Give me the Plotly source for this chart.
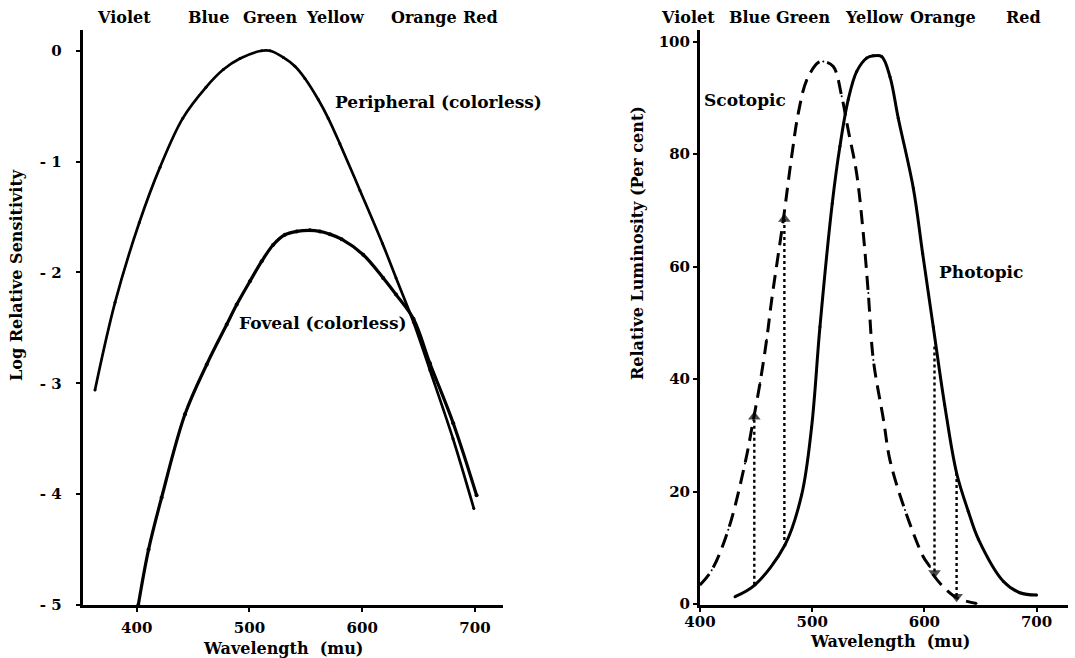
import plotly.graph_objects as go

# ---------------- data: left panel (log relative sensitivity) ----------------
periph_wl = [363, 380.8, 402.3, 420.7, 440.8, 461.4, 476.8, 491.6, 510.8, 518.2, 530, 540.3,
             549.2, 561, 569.9, 580.2, 598, 618, 630, 645.5, 660, 680.5, 699]
periph_val = [-3.06, -2.27, -1.55, -1.05, -0.61, -0.33, -0.17, -0.07, 0.0, 0.0, -0.06, -0.14,
              -0.25, -0.44, -0.61, -0.84, -1.26, -1.74, -2.05, -2.45, -2.88, -3.50, -4.13]
foveal_wl = [401.4, 410.5, 422.1, 442.8, 462.1, 479.8, 488.7, 500.4, 510.8, 521.1, 531.4, 541.8,
             553.6, 562.5, 571.3, 581.7, 600.9, 618.6, 630, 645.5, 660, 680.7, 701.4]
foveal_val = [-5.0, -4.50, -4.03, -3.28, -2.83, -2.47, -2.29, -2.08, -1.90, -1.75, -1.66, -1.63,
              -1.62, -1.63, -1.655, -1.70, -1.84, -2.05, -2.20, -2.42, -2.82, -3.36, -4.01]

left_yticks = [0, -1, -2, -3, -4, -5]
left_xticks = [400, 500, 600, 700]

# ---------------- data: right panel (relative luminosity, per cent) ----------------
photopic_wl = [431.2, 449, 475.7, 490.6, 499.5, 506.9, 517.9, 524.7, 532.1, 539.6, 548.5, 554.4,
               561.9, 569.3, 576.7, 590.1, 598.4, 607.9, 618, 628.7, 639.1, 648.2, 670.5, 685.1, 700]
photopic_val = [1.3, 3.4, 10.5, 19.4, 31.5, 49.3, 71.3, 81.4, 89.7, 94.7, 97.1, 97.5,
                97.4, 93.8, 86.4, 74.0, 62.4, 49.3, 35.5, 23.3, 16.5, 11.5, 4.0, 2.0, 1.6]
scotopic_wl = [400, 410.4, 425.2, 440.1, 447.5, 453.5, 459.4, 463.9, 474.2, 481.7, 487.6, 495.1,
               505.4, 509.9, 518.8, 526.3, 532.1, 539.6, 545.5, 550, 554.5, 563.6, 569.3, 582.7,
               599, 604.9, 607.9, 627.2, 646.5]
scotopic_val = [3.4, 6.0, 13.2, 25.0, 32.7, 39.3, 47.0, 54.1, 68.3, 79.6, 87.3, 93.2,
                96.3, 96.5, 95.6, 90.3, 84.3, 76.6, 66.0, 55.3, 43.4, 32.7, 25.6, 16.7,
                8.4, 6.6, 5.2, 1.3, 0.1]

# shift arrows (Purkinje shift): wavelength, start value, end value
arrow_wl = [448.4, 475.2, 609.0, 628.7]
arrow_from = [3.4, 11.4, 45.8, 23.3]
arrow_to = [33.3, 68.5, 5.5, 1.3]

right_yticks = [0, 20, 40, 60, 80, 100]
right_xticks = [400, 500, 600, 700]

color_names = ["Violet", "Blue", "Green", "Yellow", "Orange", "Red"]

# ---------------- layout helpers ----------------
W, H = 1075, 658
FONT = "DejaVu Serif"


def px(x):
    return x / W


def py(y):
    return 1 - y / H


YDOM = [py(605), py(30)]

fig = go.Figure()

line_kw = dict(mode="lines+markers", line_shape="spline", showlegend=False, hoverinfo="skip")

fig.add_trace(go.Scatter(x=periph_wl, y=periph_val, xaxis="x", yaxis="y",
                         line=dict(color="black", width=2.7),
                         marker=dict(size=3, color="black"), **line_kw))
fig.add_trace(go.Scatter(x=foveal_wl, y=foveal_val, xaxis="x", yaxis="y",
                         line=dict(color="black", width=3.2),
                         marker=dict(size=4, color="black"), **line_kw))

fig.add_trace(go.Scatter(x=photopic_wl, y=photopic_val, xaxis="x2", yaxis="y2",
                         line=dict(color="black", width=3),
                         marker=dict(size=3, color="black"), **line_kw))
fig.add_trace(go.Scatter(x=scotopic_wl, y=scotopic_val, xaxis="x2", yaxis="y2",
                         line=dict(color="black", width=3, dash="14px,8px"),
                         marker=dict(size=2, color="black"), **line_kw))

for wl, a, b in zip(arrow_wl, arrow_from, arrow_to):
    sym = "triangle-up" if b > a else "triangle-down"
    fig.add_trace(go.Scatter(x=[wl, wl], y=[a, b], xaxis="x2", yaxis="y2",
                             mode="lines+markers", showlegend=False, hoverinfo="skip",
                             line=dict(color="black", width=2.4, dash="dot"),
                             marker=dict(size=[0, 11], symbol=["circle", sym], color="black",
                                         line=dict(width=0))))

tickfont = dict(family=FONT, size=15, color="black", weight="bold")
axis_common = dict(showgrid=False, zeroline=False, showline=True, linewidth=3, linecolor="black",
                   ticks="outside", ticklen=4, tickwidth=2, tickcolor="black",
                   tickfont=tickfont, automargin=False)

fig.update_layout(
    width=W, height=H,
    margin=dict(l=0, r=0, t=0, b=0, autoexpand=False),
    paper_bgcolor="white", plot_bgcolor="white",
    xaxis=dict(domain=[px(82.7), px(503.3)], range=[352.1, 725.1], anchor="y",
               tickvals=left_xticks, ticklabelstandoff=3, **axis_common),
    yaxis=dict(domain=YDOM, range=[-5.0, 0.187], anchor="x",
               tickvals=left_yticks, ticktext=[str(v) if v == 0 else "- " + str(-v) for v in left_yticks],
               ticklabelstandoff=11, **axis_common),
    xaxis2=dict(domain=[px(700), px(1068)], range=[400, 728], anchor="y2",
                tickvals=right_xticks, ticklabelstandoff=-3, **axis_common),
    yaxis2=dict(domain=YDOM, range=[-0.18, 102.1], anchor="x2",
                tickvals=right_yticks, ticklabelstandoff=0, **axis_common),
)

lab_font = dict(family=FONT, size=16, color="black", weight="bold")
curve_font = dict(family=FONT, size=17, color="black", weight="bold")
ann = []

# colour names over each panel
left_centers = [124.2, 208, 270, 335.8, 424.2, 480.8]
right_centers = [688.3, 749.2, 803.3, 874.2, 943.3, 1023.3]
for name, cx in zip(color_names, left_centers):
    ann.append(dict(text=name, x=px(cx), y=py(17.5), xref="paper", yref="paper",
                    xanchor="center", yanchor="middle", showarrow=False, font=lab_font))
for name, cx in zip(color_names, right_centers):
    ann.append(dict(text=name, x=px(cx), y=py(17.5), xref="paper", yref="paper",
                    xanchor="center", yanchor="middle", showarrow=False, font=lab_font))

# axis titles
ann.append(dict(text="Log Relative Sensitivity", x=px(16), y=py(275), xref="paper", yref="paper",
                textangle=-90, xanchor="center", yanchor="middle", showarrow=False, font=lab_font))
ann.append(dict(text="Relative Luminosity (Per cent)", x=px(638), y=py(243), xref="paper", yref="paper",
                textangle=-90, xanchor="center", yanchor="middle", showarrow=False, font=lab_font))
ann.append(dict(text="Wavelength  (mu)", x=px(282.7), y=py(648), xref="paper", yref="paper",
                xanchor="center", yanchor="middle", showarrow=False, font=lab_font))
ann.append(dict(text="Wavelength  (mu)", x=px(890), y=py(641.7), xref="paper", yref="paper",
                xanchor="center", yanchor="middle", showarrow=False, font=lab_font))

# curve labels
ann.append(dict(text="Peripheral (colorless)", x=574.3, y=-0.46, xref="x", yref="y",
                xanchor="left", yanchor="middle", showarrow=False, font=curve_font))
ann.append(dict(text="Foveal (colorless)", x=489.2, y=-2.46, xref="x", yref="y",
                xanchor="left", yanchor="middle", showarrow=False, font=curve_font))
ann.append(dict(text="Scotopic", x=401.5, y=89.7, xref="x2", yref="y2",
                xanchor="left", yanchor="middle", showarrow=False, font=curve_font))
ann.append(dict(text="Photopic", x=611.2, y=59.1, xref="x2", yref="y2",
                xanchor="left", yanchor="middle", showarrow=False, font=curve_font))

fig.update_layout(annotations=ann)

fig.write_html("out.html")
